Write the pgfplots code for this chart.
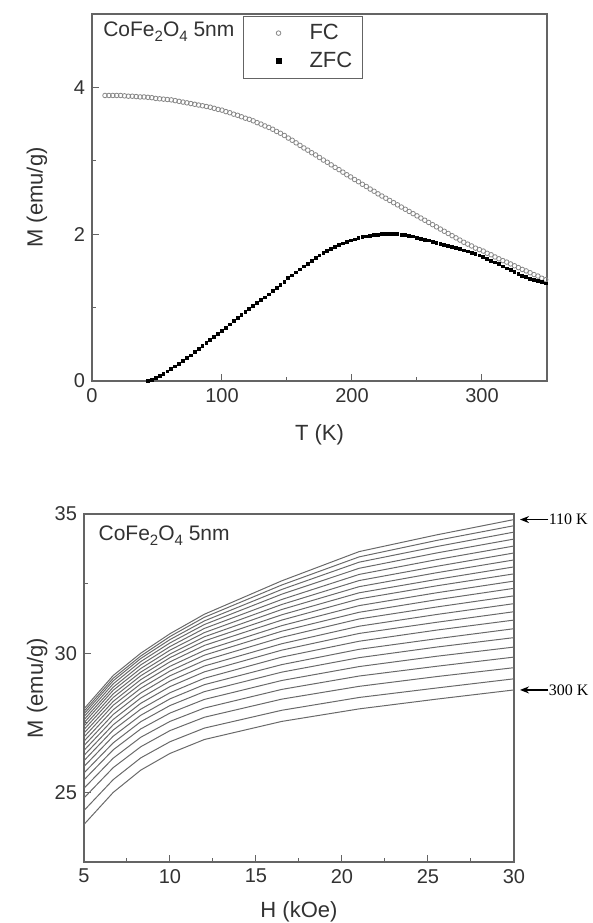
\documentclass[border=0pt]{standalone}
\usepackage{fontspec}
\setmainfont{Liberation Sans}
\newfontfamily\serifk{Liberation Serif}
\usepackage{pgfplots}
\pgfplotsset{compat=1.18}
\usetikzlibrary{arrows.meta}
\definecolor{frame}{RGB}{100,100,100}
\definecolor{txt}{RGB}{50,50,50}
\definecolor{fcgray}{RGB}{135,135,135}
\definecolor{curve}{RGB}{105,105,105}
\pgfplotsset{
  mpanel/.style={
    scale only axis,
    axis line style={draw=frame, line width=0.6pt},
    tick style={draw=frame, line width=0.5pt},
    tick align=inside,
    tick pos=left,
    major tick length=3.6pt, minor tick length=1.9pt,
    minor x tick num=1, minor y tick num=1,
    tick label style={font=\fontsize{10}{12}\selectfont, color=txt},
    label style={font=\fontsize{11}{13}\selectfont, color=txt},
    /pgf/number format/assume math mode=true,
  },
  mh/.style={curve, line width=0.5pt, mark=none},
}
\newcommand{\cofe}{CoFe\raisebox{-0.5ex}{\fontsize{7.5}{8}\selectfont 2}O\raisebox{-0.5ex}{\fontsize{7.5}{8}\selectfont 4} 5nm}

\begin{document}
\begin{tikzpicture}
\path[use as bounding box] (0,0) rectangle (296.5pt,461.5pt);

%% upper panel: FC / ZFC
\begin{axis}[mpanel,
  at={(46pt,271pt)}, anchor=south west,
  width=227.5pt, height=183.5pt,
  xmin=0, xmax=350, ymin=0, ymax=5,
  xtick={0,100,200,300}, ytick={0,2,4},
  xlabel={T (K)}, ylabel={M (emu/g)},
  xlabel style={at={(axis description cs:0.5,-0.147)}, anchor=center},
  ylabel style={at={(axis description cs:-0.121,0.5)}, anchor=center},
  legend style={at={(0.332,0.995)}, anchor=north west, draw=frame, line width=0.5pt,
    font=\fontsize{11}{13}\selectfont, text=txt,
    inner xsep=5pt, inner ysep=1.8pt, row sep=1pt, column sep=14pt,
    nodes={inner xsep=0pt, inner ysep=2pt}},
  legend cell align=left,
  legend image code/.code={\path[draw=none, fill=none] (0pt,0pt) -- (14pt,0pt);
    \draw[mark repeat=2,mark phase=2,#1] plot coordinates {(0pt,0pt)(12.5pt,0pt)(25pt,0pt)};},
]
\addplot[only marks, mark=o, mark size=1.15pt, fcgray, line width=0.4pt] coordinates {
(10,3.89)(13,3.89)(16,3.89)(19,3.89)(22,3.89)(25,3.885)(28,3.88)(31,3.88)(34,3.875)(37,3.87)
(40,3.87)(43,3.865)(46,3.86)(49,3.85)(52,3.845)(55,3.84)(58,3.835)(61,3.83)(64,3.82)(67,3.81)
(70,3.80)(73,3.79)(76,3.78)(79,3.77)(82,3.76)(85,3.75)(88,3.74)(91,3.73)(94,3.715)(97,3.70)
(100,3.69)(103,3.67)(106,3.655)(109,3.635)(112,3.62)(115,3.60)(118,3.58)(121,3.565)(124,3.545)(127,3.52)
(130,3.50)(133,3.475)(136,3.455)(139,3.43)(142,3.40)(145,3.375)(148,3.345)(151,3.31)(154,3.28)(157,3.245)
(160,3.21)(163,3.175)(166,3.145)(169,3.11)(172,3.08)(175,3.045)(178,3.01)(181,2.98)(184,2.945)(187,2.91)
(190,2.88)(193,2.845)(196,2.81)(199,2.78)(202,2.745)(205,2.715)(208,2.68)(211,2.65)(214,2.615)(217,2.585)
(220,2.55)(223,2.52)(226,2.49)(229,2.46)(232,2.43)(235,2.40)(238,2.37)(241,2.34)(244,2.31)(247,2.28)
(250,2.25)(253,2.22)(256,2.19)(259,2.16)(262,2.13)(265,2.10)(268,2.07)(271,2.04)(274,2.01)(277,1.98)
(280,1.95)(283,1.92)(286,1.89)(289,1.865)(292,1.84)(295,1.81)(298,1.79)(301,1.77)(304,1.74)(307,1.72)
(310,1.69)(313,1.665)(316,1.64)(319,1.62)(322,1.595)(325,1.57)(328,1.545)(331,1.52)(334,1.50)(337,1.475)
(340,1.45)(343,1.43)(346,1.40)(349,1.38)
};
\addlegendentry{FC}
\addplot[only marks, mark=square*, mark size=0.7pt, black, legend image post style={mark size=1.25pt}] coordinates {
(43,0.00)(46,0.02)(49,0.04)(52,0.07)(55,0.10)(58,0.13)(61,0.16)(64,0.20)(67,0.23)
(70,0.27)(73,0.31)(76,0.35)(79,0.40)(82,0.44)(85,0.48)(88,0.52)(91,0.56)(94,0.60)(97,0.64)
(100,0.68)(103,0.725)(106,0.77)(109,0.815)(112,0.86)(115,0.90)(118,0.945)(121,0.985)(124,1.025)(127,1.065)
(130,1.10)(133,1.14)(136,1.18)(139,1.225)(142,1.27)(145,1.31)(148,1.355)(151,1.40)(154,1.44)(157,1.48)
(160,1.52)(163,1.56)(166,1.60)(169,1.64)(172,1.68)(175,1.71)(178,1.745)(181,1.775)(184,1.80)(187,1.83)
(190,1.855)(193,1.875)(196,1.895)(199,1.915)(202,1.93)(205,1.945)(208,1.96)(211,1.97)(214,1.98)(217,1.99)
(220,1.995)(223,2.00)(226,2.005)(229,2.005)(232,2.005)(235,2.00)(238,1.995)(241,1.99)(244,1.98)(247,1.97)
(250,1.955)(253,1.94)(256,1.925)(259,1.915)(262,1.90)(265,1.885)(268,1.87)(271,1.855)(274,1.84)(277,1.825)
(280,1.81)(283,1.795)(286,1.78)(289,1.765)(292,1.75)(295,1.73)(298,1.71)(301,1.69)(304,1.665)(307,1.64)
(310,1.615)(313,1.59)(316,1.56)(319,1.535)(322,1.51)(325,1.485)(328,1.46)(331,1.435)(334,1.415)(337,1.395)
(340,1.375)(343,1.36)(346,1.345)(349,1.33)
};
\addlegendentry{ZFC}
\node[anchor=base west, inner sep=0pt, font=\fontsize{10.5}{12}\selectfont, text=txt]
  at (axis description cs:0.024,0.940) {\cofe};
\end{axis}

%% lower panel: M(H) isotherms, 110 K (top) to 300 K (bottom)
\begin{axis}[mpanel,
  at={(42pt,30.5pt)}, anchor=south west,
  width=215pt, height=174pt,
  xmin=5, xmax=30, ymin=22.5, ymax=35,
  xtick={5,10,...,30}, ytick={25,30,35},
  xlabel={H (kOe)}, ylabel={M (emu/g)},
  xlabel style={at={(axis description cs:0.5,-0.144)}, anchor=center},
  ylabel style={at={(axis description cs:-0.109,0.5)}, anchor=center},
  clip=false,
]
\addplot[mh] coordinates {(5,28.00)(6.7,29.20)(8.3,30.00)(10,30.70)(12,31.40)(16.5,32.60)(21,33.65)(25.5,34.25)(30,34.80)};
\addplot[mh] coordinates {(5,27.91)(6.7,29.10)(8.3,29.90)(10,30.60)(12,31.29)(16.5,32.45)(21,33.46)(25.5,34.05)(30,34.58)};
\addplot[mh] coordinates {(5,27.82)(6.7,29.01)(8.3,29.81)(10,30.49)(12,31.16)(16.5,32.29)(21,33.27)(25.5,33.83)(30,34.35)};
\addplot[mh] coordinates {(5,27.72)(6.7,28.90)(8.3,29.70)(10,30.37)(12,31.03)(16.5,32.12)(21,33.05)(25.5,33.60)(30,34.10)};
\addplot[mh] coordinates {(5,27.61)(6.7,28.78)(8.3,29.58)(10,30.24)(12,30.89)(16.5,31.93)(21,32.83)(25.5,33.36)(30,33.85)};
\addplot[mh] coordinates {(5,27.50)(6.7,28.67)(8.3,29.45)(10,30.11)(12,30.74)(16.5,31.75)(21,32.61)(25.5,33.12)(30,33.60)};
\addplot[mh] coordinates {(5,27.38)(6.7,28.54)(8.3,29.32)(10,29.97)(12,30.59)(16.5,31.57)(21,32.39)(25.5,32.89)(30,33.35)};
\addplot[mh] coordinates {(5,27.26)(6.7,28.41)(8.3,29.19)(10,29.84)(12,30.44)(16.5,31.38)(21,32.17)(25.5,32.65)(30,33.10)};
\addplot[mh] coordinates {(5,27.13)(6.7,28.27)(8.3,29.05)(10,29.69)(12,30.28)(16.5,31.19)(21,31.95)(25.5,32.42)(30,32.85)};
\addplot[mh] coordinates {(5,26.99)(6.7,28.13)(8.3,28.90)(10,29.53)(12,30.10)(16.5,30.99)(21,31.71)(25.5,32.17)(30,32.59)};
\addplot[mh] coordinates {(5,26.84)(6.7,27.97)(8.3,28.74)(10,29.36)(12,29.93)(16.5,30.79)(21,31.47)(25.5,31.92)(30,32.33)};
\addplot[mh] coordinates {(5,26.68)(6.7,27.80)(8.3,28.57)(10,29.19)(12,29.74)(16.5,30.57)(21,31.23)(25.5,31.66)(30,32.06)};
\addplot[mh] coordinates {(5,26.51)(6.7,27.62)(8.3,28.39)(10,29.00)(12,29.54)(16.5,30.34)(21,30.97)(25.5,31.39)(30,31.78)};
\addplot[mh] coordinates {(5,26.33)(6.7,27.43)(8.3,28.20)(10,28.80)(12,29.33)(16.5,30.11)(21,30.71)(25.5,31.11)(30,31.49)};
\addplot[mh] coordinates {(5,26.14)(6.7,27.24)(8.3,27.99)(10,28.58)(12,29.10)(16.5,29.86)(21,30.43)(25.5,30.83)(30,31.19)};
\addplot[mh] coordinates {(5,25.93)(6.7,27.02)(8.3,27.77)(10,28.36)(12,28.87)(16.5,29.59)(21,30.14)(25.5,30.52)(30,30.88)};
\addplot[mh] coordinates {(5,25.70)(6.7,26.78)(8.3,27.54)(10,28.12)(12,28.62)(16.5,29.32)(21,29.84)(25.5,30.22)(30,30.56)};
\addplot[mh] coordinates {(5,25.45)(6.7,26.53)(8.3,27.28)(10,27.85)(12,28.34)(16.5,29.02)(21,29.52)(25.5,29.89)(30,30.22)};
\addplot[mh] coordinates {(5,25.15)(6.7,26.23)(8.3,26.98)(10,27.55)(12,28.03)(16.5,28.70)(21,29.18)(25.5,29.53)(30,29.86)};
\addplot[mh] coordinates {(5,24.80)(6.7,25.89)(8.3,26.64)(10,27.22)(12,27.70)(16.5,28.35)(21,28.81)(25.5,29.16)(30,29.48)};
\addplot[mh] coordinates {(5,24.35)(6.7,25.46)(8.3,26.24)(10,26.82)(12,27.31)(16.5,27.95)(21,28.41)(25.5,28.75)(30,29.08)};
\addplot[mh] coordinates {(5,23.85)(6.7,25.00)(8.3,25.80)(10,26.40)(12,26.90)(16.5,27.55)(21,28.00)(25.5,28.35)(30,28.68)};
\node[anchor=base west, inner sep=0pt, font=\fontsize{10.5}{12}\selectfont, text=txt]
  at (axis description cs:0.033,0.925) {\cofe};
\draw[-{Stealth[length=4.5pt,width=3.5pt]}, black, line width=0.6pt]
  (axis cs:32.0,34.80) -- (axis cs:30.35,34.80);
\node[anchor=west, inner sep=0pt, font=\serifk\fontsize{8}{9}\selectfont]
  at (axis cs:32.0,34.80) {110 K};
\draw[-{Stealth[length=4.5pt,width=3.5pt]}, black, line width=0.6pt]
  (axis cs:32.0,28.68) -- (axis cs:30.35,28.68);
\node[anchor=west, inner sep=0pt, font=\serifk\fontsize{8}{9}\selectfont]
  at (axis cs:32.0,28.68) {300 K};
\end{axis}
\end{tikzpicture}
\end{document}
